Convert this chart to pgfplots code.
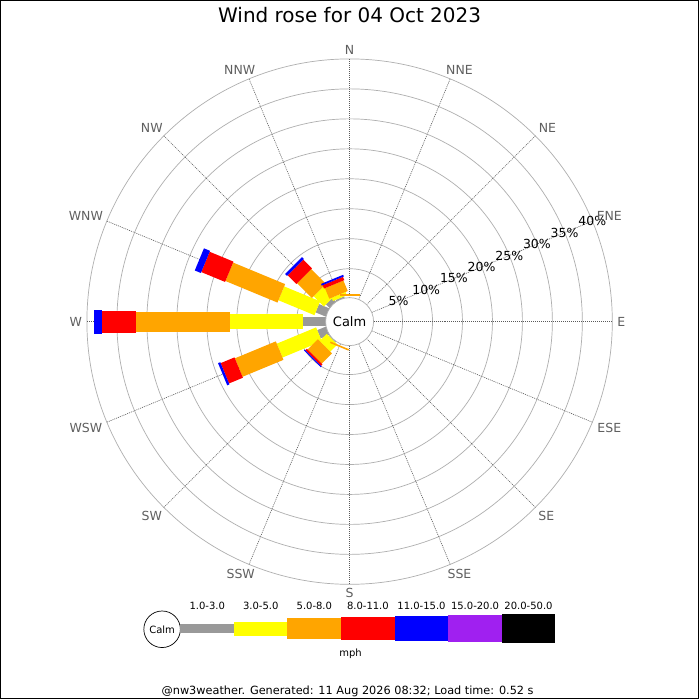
\documentclass[border=0pt]{standalone}
\usepackage{pgfplots}
\pgfplotsset{compat=1.18}
\usepackage{fontspec}
\setmainfont{DejaVu Sans}
\definecolor{wgray}{RGB}{153,153,153}
\definecolor{wyellow}{RGB}{255,255,0}
\definecolor{worange}{RGB}{255,165,0}
\definecolor{wred}{RGB}{255,0,0}
\definecolor{wblue}{RGB}{0,0,255}
\definecolor{wpurple}{RGB}{160,32,240}
\definecolor{ringc}{RGB}{175,175,175}
\definecolor{radc}{RGB}{90,90,90}
\definecolor{labc}{RGB}{95,95,95}
\newcommand{\fs}[1]{\fontsize{#1}{#1}\selectfont}
% one bar segment: angle (math deg), inner %, outer %, width (px), colour
\newcommand{\seg}[5]{\addplot[data cs=polar, draw=#5, line width=#4pt, line cap=butt, forget plot]
  table[row sep=\\, x=a, y expr=23+6*\thisrow{p}] {a p\\ #1 #2\\ #1 #3\\};}
\begin{document}
\begin{tikzpicture}
\begin{axis}[width=700pt, height=700pt, scale only axis,
  xmin=-350, xmax=350, ymin=-378, ymax=322, hide axis, clip=false]
% background and frame
\fill[white] (axis cs:-350,-378) rectangle (axis cs:350,322);
\draw[black, line width=1pt] (axis cs:-349.5,-377.5) rectangle (axis cs:349.5,321.5);
% rings
\pgfplotsinvokeforeach{53,83,113,143,173,203,233,263}{
  \draw[ringc, line width=0.7pt] (axis cs:0,0) circle[radius=#1];
}
% radial dotted lines
\pgfplotsinvokeforeach{0,22.5,45,67.5,90,112.5,135,157.5,180,202.5,225,247.5,270,292.5,315,337.5}{
  \draw[radc, line width=0.6pt, dash pattern=on 1pt off 1pt] (axis cs:0,0) ++(#1:24pt) -- ++(#1:239pt);
}
% ring labels
\node[font=\fs{12.5}] at ([shift={(22.5:53pt)}]axis cs:0,0) {5\%};
\node[font=\fs{12.5}] at ([shift={(22.5:83pt)}]axis cs:0,0) {10\%};
\node[font=\fs{12.5}] at ([shift={(22.5:113pt)}]axis cs:0,0) {15\%};
\node[font=\fs{12.5}] at ([shift={(22.5:143pt)}]axis cs:0,0) {20\%};
\node[font=\fs{12.5}] at ([shift={(22.5:173pt)}]axis cs:0,0) {25\%};
\node[font=\fs{12.5}] at ([shift={(22.5:203pt)}]axis cs:0,0) {30\%};
\node[font=\fs{12.5}] at ([shift={(22.5:233pt)}]axis cs:0,0) {35\%};
\node[font=\fs{12.5}] at ([shift={(22.5:263pt)}]axis cs:0,0) {40\%};
% compass labels
\begin{scope}[every node/.style={font=\fs{12.5}, text=labc}]
\node at (axis cs:0,272) {N};
\node at (axis cs:110,252) {NNE};
\node at (axis cs:198,194) {NE};
\node at (axis cs:260,106) {ENE};
\node at (axis cs:272,0) {E};
\node at (axis cs:260,-106) {ESE};
\node at (axis cs:197,-195) {SE};
\node at (axis cs:110,-253) {SSE};
\node at (axis cs:0,-272) {S};
\node at (axis cs:-109,-253) {SSW};
\node at (axis cs:-198,-195) {SW};
\node at (axis cs:-264,-106) {WSW};
\node at (axis cs:-274,0) {W};
\node at (axis cs:-264,106) {WNW};
\node at (axis cs:-198,194) {NW};
\node at (axis cs:-110,252) {NNW};
\end{scope}
% ---- bars (cumulative percentages per direction) ----
% W
\seg{180}{0}{4.0}{9}{wgray}
\seg{180}{4.0}{16.2}{15}{wyellow}
\seg{180}{16.2}{31.8}{20}{worange}
\seg{180}{31.8}{37.5}{22}{wred}
\seg{180}{37.5}{38.8}{24}{wblue}
% WNW
\seg{157.5}{0}{2.0}{9}{wgray}
\seg{157.5}{2.0}{8.5}{15}{wyellow}
\seg{157.5}{8.5}{17.9}{20}{worange}
\seg{157.5}{17.9}{22.2}{22}{wred}
\seg{157.5}{22.2}{23.3}{24}{wblue}
% WSW
\seg{202.5}{0}{1.7}{9}{wgray}
\seg{202.5}{1.7}{8.8}{15}{wyellow}
\seg{202.5}{8.8}{16.2}{20}{worange}
\seg{202.5}{16.2}{18.7}{22}{wred}
\seg{202.5}{18.7}{19.1}{24}{wblue}
% NW
\seg{135}{0}{1.0}{9}{wgray}
\seg{135}{1.0}{3.4}{15}{wyellow}
\seg{135}{3.4}{6.9}{20}{worange}
\seg{135}{6.9}{8.95}{22}{wred}
\seg{135}{8.95}{9.4}{24}{wblue}
% NNW
\seg{112.5}{0}{0.4}{9}{wgray}
\seg{112.5}{0.4}{1.0}{15}{wyellow}
\seg{112.5}{1.0}{2.9}{20}{worange}
\seg{112.5}{2.9}{3.5}{22}{wred}
\seg{112.5}{3.5}{3.8}{24}{wblue}
% SW
\seg{225}{0}{0.3}{9}{wgray}
\seg{225}{0.3}{2.0}{15}{wyellow}
\seg{225}{2.0}{4.4}{20}{worange}
\seg{225}{4.4}{4.75}{22}{wred}
\seg{225}{4.75}{4.95}{24}{wblue}
% N
\seg{90}{0.45}{0.75}{20}{worange}
% SSW
\seg{247.5}{0.45}{0.72}{20}{worange}
% calm circle
\draw[ringc, fill=white, line width=0.7pt] (axis cs:0,0) circle[radius=24];
\node[font=\fs{13}] at (axis cs:0,0) {Calm};
% title
\node[font=\fs{20}, anchor=base] at (axis cs:0,299) {Wind rose for 04 Oct 2023};
% legend
\draw[black, fill=white, line width=0.7pt] (axis cs:-187.7,-308) circle[radius=18.3];
\node[font=\fs{10}] at (axis cs:-187.7,-308) {Calm};
\fill[wgray]   (axis cs:-169.3,-311.5) rectangle (axis cs:-115.7,-303.2);
\fill[wyellow] (axis cs:-115.7,-314.3) rectangle (axis cs:-62.3,-300.3);
\fill[worange] (axis cs:-62.3,-317.4) rectangle (axis cs:-8.3,-297.1);
\fill[wred]    (axis cs:-8.3,-318.6) rectangle (axis cs:45,-295.9);
\fill[wblue]   (axis cs:45,-319.6) rectangle (axis cs:99,-294.9);
\fill[wpurple] (axis cs:99,-320.6) rectangle (axis cs:152.3,-293.9);
\fill[black]   (axis cs:152.3,-321.4) rectangle (axis cs:206,-293.1);
\begin{scope}[every node/.style={font=\fs{10}}]
\node at (axis cs:-142.5,-285) {1.0-3.0};
\node at (axis cs:-89,-285) {3.0-5.0};
\node at (axis cs:-35.3,-285) {5.0-8.0};
\node at (axis cs:18.3,-285) {8.0-11.0};
\node at (axis cs:72,-285) {11.0-15.0};
\node at (axis cs:125.6,-285) {15.0-20.0};
\node at (axis cs:179.1,-285) {20.0-50.0};
\node at (axis cs:1,-332) {mph};
\end{scope}
\node[font=\fs{11.3}] at (axis cs:-2,-370) {@nw3weather. Generated: 11 Aug 2026 08:32; Load time: 0.52 s};
\end{axis}
\end{tikzpicture}
\end{document}
